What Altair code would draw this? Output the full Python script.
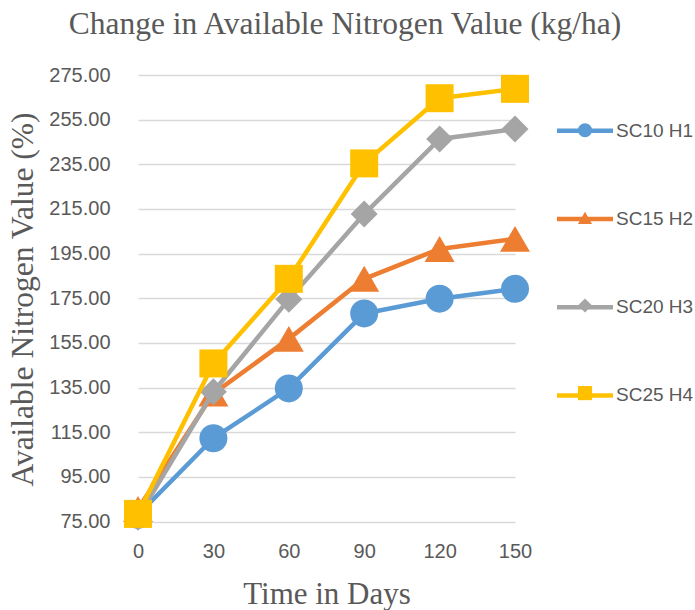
import altair as alt
import pandas as pd

days = [0, 30, 60, 90, 120, 150]
series = ["SC10 H1", "SC15 H2", "SC20 H3", "SC25 H4"]
sc10_h1 = [78.0, 112.3, 134.6, 168.2, 174.8, 179.2]
sc15_h2 = [80.6, 132.3, 156.8, 183.7, 197.1, 201.6]
sc20_h3 = [76.9, 133.1, 174.5, 212.7, 246.3, 250.8]
sc25_h4 = [78.4, 145.8, 183.7, 235.4, 264.6, 268.8]
y_ticks = [75, 95, 115, 135, 155, 175, 195, 215, 235, 255, 275]
x_ticks = [0, 30, 60, 90, 120, 150]

colors = ["#5B9BD5", "#ED7D31", "#A5A5A5", "#FFC000"]
shapes = ["circle", "triangle-up", "diamond", "square"]
sizes = [784, 900, 729, 784]

values = [sc10_h1, sc15_h2, sc20_h3, sc25_h4]
pt_names = [s + " pt" for s in series]
rows = []
for name, ptn, vals in zip(series, pt_names, values):
    for d, v in zip(days, vals):
        rows.append({"day": d, "value": v, "series": name, "series_pt": ptn})
df = pd.DataFrame(rows)

TXT = "#595959"
SANS = "Liberation Sans"
SERIF = "Liberation Serif"

x_enc = alt.X(
    "day:Q",
    scale=alt.Scale(domain=[0, 150], nice=False, zero=False),
    axis=alt.Axis(
        values=x_ticks, format="d", grid=False, domain=False, ticks=False, tickSize=0,
        labelFont=SANS, labelFontSize=20, labelColor=TXT, labelPadding=35.5,
        labelBaseline="alphabetic", labelFlush=False,
        title="Time in Days", titleFont=SERIF, titleFontSize=31, titleFontWeight="normal",
        titleColor=TXT, titleY=82, titleBaseline="alphabetic",
    ),
)
y_enc = alt.Y(
    "value:Q",
    scale=alt.Scale(domain=[75, 275], nice=False, zero=False),
    axis=alt.Axis(
        values=y_ticks, format=".2f", grid=True, gridColor="#D9D9D9", gridWidth=1.5,
        domain=False, ticks=False, tickSize=0, labelFlush=False,
        labelFont=SANS, labelFontSize=20, labelColor=TXT, labelPadding=28,
        title="Available Nitrogen Value (%)", titleFont=SERIF, titleFontSize=31.5,
        titleFontWeight="normal", titleColor=TXT, titleAngle=270, titleX=-106, titleY=224,
        titleAlign="center", titleBaseline="alphabetic",
    ),
)

line_legend = alt.Legend(
    orient="none", legendX=416.5, legendY=25.3, title=None, direction="vertical",
    symbolType="stroke", symbolSize=3136, symbolStrokeWidth=4.5,
    labelFont=SANS, labelFontSize=19, labelColor=TXT, labelOffset=0.5,
    rowPadding=47.2, padding=0,
)
pt_legend = alt.Legend(
    orient="none", legendX=437, legendY=45.3, title=None, direction="vertical",
    symbolSize=200, symbolStrokeWidth=0, symbolOpacity=1,
    labelFont=SANS, labelFontSize=20, labelColor=TXT, labelOpacity=0, labelOffset=0.5,
    labelExpr="''", rowPadding=67.6, padding=0,
)

color_enc = alt.Color("series:N", scale=alt.Scale(domain=series, range=colors), legend=line_legend)
fill_enc = alt.Fill("series_pt:N", scale=alt.Scale(domain=pt_names, range=colors), legend=pt_legend)
shape_enc = alt.Shape("series_pt:N", scale=alt.Scale(domain=pt_names, range=shapes), legend=pt_legend)

layers = []
base = alt.Chart(df)
for name, sz in zip(series, sizes):
    sub = base.transform_filter(alt.datum.series == name)
    layers.append(
        sub.mark_line(strokeWidth=4.5, strokeJoin="round", strokeCap="round").encode(
            x=x_enc, y=y_enc, color=color_enc
        )
    )
    layers.append(
        sub.mark_point(filled=True, opacity=1, strokeWidth=0, size=sz).encode(
            x=x_enc, y=y_enc, fill=fill_enc, shape=shape_enc
        )
    )

chart = alt.layer(*layers).properties(
    width=377,
    height=446.5,
    autosize=alt.AutoSizeParams(type="none"),
    padding={"left": 138, "top": 75, "right": 180, "bottom": 88.5},
    title=alt.TitleParams(
        "Change in Available Nitrogen Value (kg/ha)", font=SERIF, fontSize=31.5,
        fontWeight="normal", color=TXT, anchor="middle", frame="group", dx=18.5,
        baseline="alphabetic", offset=0,
    ),
    background="white",
).configure_view(stroke=None)

chart.save("out.html", embed_options={"renderer": "svg", "actions": False})
